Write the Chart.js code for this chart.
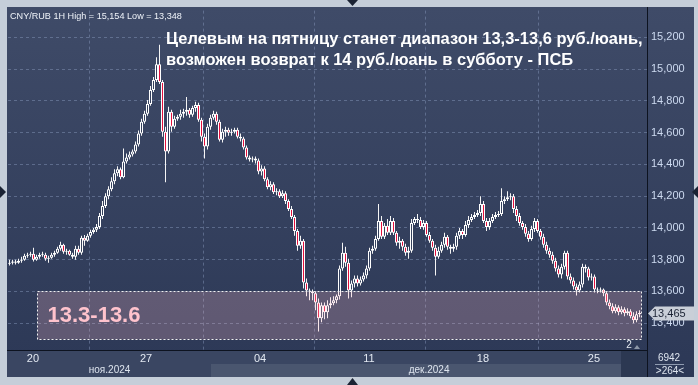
<!DOCTYPE html>
<html>
<head>
<meta charset="utf-8">
<script src="https://cdn.jsdelivr.net/npm/chart.js@4.4.1/dist/chart.umd.min.js"></script>
<style>
  html, body { margin: 0; padding: 0; background: #c5ced9; }
  canvas { display: block; }
</style>
</head>
<body>
<canvas id="cnyChart" width="698" height="385"></canvas>
<script>
// CNY/RUB 1H candles (19 Nov - 26 Dec 2024)
const opens = [
  13.775, 13.781, 13.788, 13.781, 13.794, 13.800, 13.825, 13.831, 13.838, 13.800,
  13.819, 13.831, 13.831, 13.806, 13.813, 13.831, 13.844, 13.869, 13.894, 13.850,
  13.856, 13.831, 13.819, 13.869, 13.844, 13.938, 13.919, 13.950, 13.975, 13.988,
  14.006, 14.075, 14.138, 14.200, 14.244, 14.294, 14.344, 14.369, 14.319, 14.419,
  14.444, 14.463, 14.481, 14.525, 14.594, 14.669, 14.719, 14.781, 14.869, 14.931,
  15.031, 14.919, 14.606, 14.481, 14.731, 14.638, 14.688, 14.700, 14.719, 14.731,
  14.744, 14.713, 14.756, 14.775, 14.681, 14.575, 14.513, 14.638, 14.694, 14.719,
  14.669, 14.556, 14.606, 14.619, 14.600, 14.606, 14.619, 14.575, 14.563, 14.506,
  14.444, 14.431, 14.438, 14.425, 14.356, 14.375, 14.306, 14.256, 14.275, 14.225,
  14.231, 14.200, 14.219, 14.169, 14.119, 14.069, 13.981, 13.888, 13.919, 13.656,
  13.606, 13.600, 13.588, 13.531, 13.431, 13.513, 13.469, 13.513, 13.525, 13.544,
  13.569, 13.744, 13.844, 13.781, 13.606, 13.650, 13.681, 13.650, 13.675, 13.700,
  13.744, 13.856, 13.869, 13.931, 14.044, 13.944, 14.013, 13.969, 14.044, 13.969,
  13.906, 13.919, 13.881, 13.844, 13.856, 14.031, 14.056, 14.050, 14.006, 14.031,
  13.956, 13.919, 13.875, 13.819, 13.856, 13.894, 13.944, 13.881, 13.869, 13.881,
  13.950, 13.981, 13.956, 14.019, 14.050, 14.069, 14.081, 14.094, 14.150, 14.044,
  14.006, 14.044, 14.069, 14.081, 14.088, 14.169, 14.181, 14.194, 14.200, 14.119,
  14.075, 14.031, 14.006, 13.963, 13.931, 13.994, 14.044, 13.981, 13.944, 13.894,
  13.856, 13.831, 13.794, 13.744, 13.706, 13.756, 13.844, 13.694, 13.669, 13.631,
  13.606, 13.644, 13.756, 13.744, 13.688, 13.694, 13.613, 13.606, 13.613, 13.588,
  13.531, 13.506, 13.475, 13.500, 13.469, 13.488, 13.463, 13.475, 13.444, 13.419, 13.456
];
const highs = [
  13.800, 13.800, 13.800, 13.806, 13.819, 13.838, 13.844, 13.850, 13.875, 13.831,
  13.844, 13.850, 13.844, 13.825, 13.844, 13.856, 13.881, 13.913, 13.900, 13.869,
  13.863, 13.844, 13.888, 13.888, 13.950, 13.956, 13.963, 13.988, 14.000, 14.025,
  14.094, 14.169, 14.219, 14.263, 14.319, 14.369, 14.388, 14.381, 14.500, 14.469,
  14.481, 14.494, 14.544, 14.613, 14.688, 14.738, 14.806, 14.894, 14.950, 15.075,
  15.154, 14.931, 14.638, 14.763, 14.744, 14.706, 14.713, 14.744, 14.750, 14.825,
  14.756, 14.769, 14.794, 14.788, 14.694, 14.594, 14.656, 14.713, 14.738, 14.731,
  14.681, 14.625, 14.638, 14.631, 14.625, 14.631, 14.631, 14.594, 14.575, 14.519,
  14.456, 14.450, 14.450, 14.438, 14.394, 14.388, 14.319, 14.294, 14.288, 14.250,
  14.244, 14.238, 14.231, 14.181, 14.138, 14.081, 13.994, 13.950, 13.931, 13.681,
  13.619, 13.613, 13.600, 13.556, 13.531, 13.531, 13.544, 13.563, 13.569, 13.581,
  13.763, 13.906, 13.881, 13.806, 13.669, 13.700, 13.700, 13.694, 13.719, 13.763,
  13.875, 13.888, 13.950, 14.150, 14.075, 14.031, 14.056, 14.075, 14.063, 13.981,
  13.944, 13.931, 13.900, 13.881, 14.056, 14.069, 14.088, 14.069, 14.050, 14.044,
  13.975, 13.931, 13.894, 13.881, 13.913, 13.969, 13.956, 13.894, 13.900, 13.969,
  14.000, 13.994, 14.044, 14.075, 14.088, 14.100, 14.113, 14.200, 14.169, 14.063,
  14.063, 14.088, 14.100, 14.106, 14.250, 14.200, 14.231, 14.219, 14.213, 14.138,
  14.094, 14.044, 14.025, 13.981, 14.013, 14.063, 14.056, 13.994, 13.963, 13.913,
  13.875, 13.850, 13.813, 13.763, 13.775, 13.856, 13.856, 13.713, 13.688, 13.650,
  13.663, 13.775, 13.769, 13.756, 13.713, 13.706, 13.625, 13.625, 13.619, 13.600,
  13.550, 13.525, 13.519, 13.513, 13.506, 13.500, 13.494, 13.488, 13.469, 13.475, 13.481
];
const lows = [
  13.763, 13.769, 13.769, 13.775, 13.781, 13.794, 13.813, 13.819, 13.788, 13.794,
  13.806, 13.819, 13.794, 13.781, 13.806, 13.819, 13.838, 13.856, 13.838, 13.831,
  13.825, 13.806, 13.800, 13.831, 13.831, 13.888, 13.913, 13.938, 13.963, 13.975,
  13.994, 14.056, 14.125, 14.181, 14.231, 14.275, 14.325, 14.306, 14.313, 14.406,
  14.431, 14.450, 14.469, 14.513, 14.581, 14.656, 14.706, 14.769, 14.856, 14.919,
  14.906, 14.575, 14.288, 14.469, 14.606, 14.625, 14.675, 14.681, 14.694, 14.706,
  14.694, 14.700, 14.731, 14.669, 14.544, 14.438, 14.494, 14.619, 14.681, 14.650,
  14.544, 14.538, 14.575, 14.581, 14.581, 14.594, 14.563, 14.544, 14.494, 14.431,
  14.419, 14.413, 14.406, 14.338, 14.331, 14.294, 14.244, 14.238, 14.213, 14.206,
  14.188, 14.188, 14.150, 14.106, 14.056, 13.950, 13.856, 13.869, 13.619, 13.569,
  13.544, 13.544, 13.481, 13.348, 13.406, 13.425, 13.431, 13.494, 13.513, 13.525,
  13.550, 13.731, 13.756, 13.556, 13.563, 13.625, 13.631, 13.638, 13.663, 13.681,
  13.731, 13.838, 13.856, 13.919, 13.931, 13.931, 13.956, 13.956, 13.956, 13.888,
  13.869, 13.856, 13.825, 13.806, 13.844, 14.019, 14.031, 13.994, 13.988, 13.944,
  13.906, 13.856, 13.700, 13.806, 13.844, 13.875, 13.863, 13.838, 13.850, 13.863,
  13.931, 13.931, 13.944, 14.000, 14.038, 14.056, 14.069, 14.075, 14.031, 13.981,
  13.988, 14.031, 14.056, 14.069, 14.075, 14.150, 14.169, 14.175, 14.094, 14.044,
  14.013, 13.988, 13.944, 13.913, 13.919, 13.975, 13.969, 13.925, 13.875, 13.838,
  13.813, 13.775, 13.725, 13.688, 13.681, 13.738, 13.675, 13.650, 13.613, 13.575,
  13.594, 13.625, 13.719, 13.669, 13.669, 13.594, 13.588, 13.594, 13.569, 13.513,
  13.488, 13.463, 13.463, 13.450, 13.456, 13.444, 13.450, 13.431, 13.400, 13.406, 13.438
];
const closes = [
  13.781, 13.788, 13.781, 13.794, 13.800, 13.825, 13.831, 13.838, 13.800, 13.819,
  13.831, 13.838, 13.806, 13.813, 13.831, 13.844, 13.869, 13.894, 13.850, 13.856,
  13.831, 13.819, 13.869, 13.844, 13.938, 13.919, 13.950, 13.975, 13.988, 14.006,
  14.075, 14.138, 14.200, 14.244, 14.294, 14.344, 14.369, 14.319, 14.419, 14.444,
  14.463, 14.481, 14.525, 14.594, 14.669, 14.719, 14.781, 14.869, 14.931, 15.031,
  14.919, 14.606, 14.481, 14.731, 14.638, 14.688, 14.700, 14.719, 14.731, 14.744,
  14.713, 14.756, 14.775, 14.681, 14.575, 14.513, 14.638, 14.694, 14.719, 14.669,
  14.556, 14.606, 14.619, 14.600, 14.606, 14.619, 14.575, 14.563, 14.506, 14.444,
  14.431, 14.438, 14.425, 14.356, 14.375, 14.306, 14.256, 14.275, 14.225, 14.231,
  14.200, 14.219, 14.169, 14.119, 14.069, 13.981, 13.888, 13.919, 13.656, 13.606,
  13.600, 13.588, 13.531, 13.431, 13.513, 13.469, 13.513, 13.525, 13.544, 13.569,
  13.744, 13.844, 13.781, 13.606, 13.650, 13.681, 13.650, 13.675, 13.700, 13.744,
  13.856, 13.869, 13.931, 14.044, 13.944, 14.013, 13.969, 14.044, 13.969, 13.906,
  13.919, 13.881, 13.844, 13.856, 14.031, 14.056, 14.050, 14.006, 14.031, 13.956,
  13.919, 13.875, 13.819, 13.856, 13.894, 13.944, 13.881, 13.869, 13.881, 13.950,
  13.981, 13.956, 14.019, 14.050, 14.069, 14.081, 14.094, 14.150, 14.044, 14.006,
  14.044, 14.069, 14.081, 14.088, 14.169, 14.181, 14.194, 14.200, 14.119, 14.075,
  14.031, 14.006, 13.963, 13.931, 13.994, 14.044, 13.981, 13.944, 13.894, 13.856,
  13.831, 13.794, 13.744, 13.706, 13.756, 13.844, 13.694, 13.669, 13.631, 13.606,
  13.644, 13.756, 13.744, 13.688, 13.694, 13.613, 13.606, 13.613, 13.588, 13.531,
  13.506, 13.475, 13.500, 13.469, 13.488, 13.463, 13.475, 13.444, 13.419, 13.456, 13.465
];

// x axis: candle index where each labelled day begins
const dayLabels = ['20', '27', '04', '11', '18', '25'];
const dayStarts = [7.8, 45.5, 83.5, 119.8, 157.8, 194.8];
const months = ['ноя.2024', 'дек.2024'];
const monthStarts = [-0.5, 67.2];
const priceTicks = [13.4, 13.6, 13.8, 14.0, 14.2, 14.4, 14.6, 14.8, 15.0, 15.2];

// target zone from the forecast
const zoneLow = 13.3, zoneHigh = 13.6;
const zoneFrom = 9.2, zoneTo = 210.5;
const lastPrice = 13.465;

const title = 'CNY/RUB 1H High = 15,154 Low = 13,348';
const headline = [
  'Целевым на пятницу станет диапазон 13,3-13,6 руб./юань,',
  'возможен возврат к 14 руб./юань в субботу - ПСБ'
];

const FONT = '"Liberation Sans", Arial, sans-serif';
const UP_FILL = '#35415d';
const DOWN_FILL = '#e3103d';
const gridColor = 'rgba(140, 158, 192, 0.45)';

const wickData = highs.map((h, i) => ({ x: i, y: [lows[i], h] }));
const bodyData = opens.map((o, i) => ({ x: i, y: [o, closes[i]] }));
const bodyColors = opens.map((o, i) => closes[i] < o ? DOWN_FILL : UP_FILL);

function fmt(v) {
  return v.toFixed(3).replace('.', ',');
}

const panelPlugin = {
  id: 'panel',
  beforeDraw(chart) {
    const { ctx, chartArea: a, scales: { x } } = chart;
    ctx.save();
    ctx.fillStyle = '#c5ced9';
    ctx.fillRect(0, 0, chart.width, chart.height);

    const g = ctx.createLinearGradient(0, 7, 0, 377);
    g.addColorStop(0, '#3f4b68');
    g.addColorStop(1, '#2c3856');
    ctx.fillStyle = g;
    ctx.fillRect(7, 7, 687, 370);

    // x axis strip + month band
    ctx.fillStyle = '#3a4662';
    ctx.fillRect(7, a.bottom, a.right - 7, 377 - a.bottom);
    const decX = Math.round(x.getPixelForValue(monthStarts[1]));
    ctx.fillStyle = '#4a566f';
    ctx.fillRect(decX, 364, a.right - decX, 13);
    const tailX = Math.round(x.getPixelForValue(203.8));
    ctx.fillStyle = '#2c3852';
    ctx.fillRect(tailX, a.bottom, a.right - tailX, 377 - a.bottom);

    // edge arrows
    ctx.fillStyle = '#1b2334';
    ctx.beginPath(); ctx.moveTo(347, 0); ctx.lineTo(358, 0); ctx.lineTo(352.5, 6); ctx.fill();
    ctx.beginPath(); ctx.moveTo(347, 385); ctx.lineTo(358, 385); ctx.lineTo(352.5, 378); ctx.fill();
    ctx.beginPath(); ctx.moveTo(0, 186); ctx.lineTo(0, 198); ctx.lineTo(6, 192); ctx.fill();
    ctx.beginPath(); ctx.moveTo(698, 186); ctx.lineTo(698, 198); ctx.lineTo(692, 192); ctx.fill();
    ctx.restore();
  },
  afterDatasetsDraw(chart) {
    const { ctx, chartArea: a, scales: { x, y } } = chart;
    const x0 = Math.round(x.getPixelForValue(zoneFrom)) + 0.5;
    const x1 = Math.round(x.getPixelForValue(zoneTo)) + 0.5;
    const y0 = Math.round(y.getPixelForValue(zoneHigh)) + 0.5;
    const y1 = Math.round(y.getPixelForValue(zoneLow)) + 0.5;
    ctx.save();
    ctx.fillStyle = 'rgba(255, 190, 202, 0.24)';
    ctx.fillRect(x0, y0, x1 - x0, y1 - y0);
    ctx.strokeStyle = '#f2f2f2';
    ctx.lineWidth = 1;
    ctx.setLineDash([2, 2]);
    ctx.strokeRect(x0, y0, x1 - x0, y1 - y0);
    ctx.setLineDash([]);
    ctx.fillStyle = '#ffc3cd';
    ctx.font = 'bold 22px ' + FONT;
    ctx.textBaseline = 'alphabetic';
    ctx.fillText(zoneLow.toFixed(1) + '-' + zoneHigh.toFixed(1), x0 + 10, 322);
    ctx.restore();
  },
  afterDraw(chart) {
    const { ctx, chartArea: a, scales: { x, y } } = chart;
    ctx.save();
    // separators
    ctx.strokeStyle = '#0d1320';
    ctx.lineWidth = 1;
    ctx.beginPath();
    ctx.moveTo(a.right + 0.5, 7); ctx.lineTo(a.right + 0.5, 377);
    ctx.moveTo(7, a.bottom + 0.5); ctx.lineTo(a.right, a.bottom + 0.5);
    ctx.stroke();

    // month labels
    ctx.fillStyle = '#dde4ee';
    ctx.font = '10px ' + FONT;
    ctx.textAlign = 'center';
    ctx.textBaseline = 'middle';
    months.forEach((m, i) => {
      const l = Math.max(a.left, x.getPixelForValue(monthStarts[i]));
      const r = i + 1 < months.length ? x.getPixelForValue(monthStarts[i + 1]) : a.right;
      ctx.fillText(m, (l + r) / 2, 370.5);
    });

    // bar count / shift box
    ctx.fillText('6942', 669, 358);
    ctx.fillText('>264<', 670, 371);
    ctx.strokeStyle = '#8f9bb0';
    ctx.beginPath(); ctx.moveTo(655, 364.5); ctx.lineTo(684, 364.5); ctx.stroke();

    // "2" marker
    ctx.font = '10px ' + FONT;
    ctx.fillStyle = '#e6ebf2';
    ctx.fillText('2', 629, 345);
    ctx.fillStyle = '#8d97a8';
    ctx.beginPath(); ctx.moveTo(634, 349); ctx.lineTo(640, 349); ctx.lineTo(637, 345); ctx.fill();

    // last price marker
    const py = Math.round(y.getPixelForValue(lastPrice)) + 0.5;
    ctx.fillStyle = '#c9cfd8';
    ctx.beginPath();
    ctx.moveTo(a.right + 1, py);
    ctx.lineTo(a.right + 8, py - 7);
    ctx.lineTo(694, py - 7);
    ctx.lineTo(694, py + 7);
    ctx.lineTo(a.right + 8, py + 7);
    ctx.closePath();
    ctx.fill();
    ctx.fillStyle = '#1a2233';
    ctx.font = '11px ' + FONT;
    ctx.textAlign = 'left';
    ctx.fillText(fmt(lastPrice), a.right + 5, py + 0.5);

    // title
    ctx.fillStyle = '#eef2f8';
    ctx.font = '11px ' + FONT;
    ctx.textBaseline = 'alphabetic';
    const tw = ctx.measureText(title).width;
    ctx.font = (11 * 172 / tw).toFixed(2) + 'px ' + FONT;
    ctx.fillText(title, 10, 19);

    // headline
    ctx.fillStyle = '#ffffff';
    ctx.font = 'bold 16px ' + FONT;
    const hw = ctx.measureText(headline[0]).width;
    ctx.font = 'bold ' + (16 * 477 / hw).toFixed(2) + 'px ' + FONT;
    ctx.fillText(headline[0], 166, 44);
    ctx.fillText(headline[1], 166, 65);
    ctx.restore();
  }
};

const ctx = document.getElementById('cnyChart').getContext('2d');
const cnyChart = new Chart(ctx, {
  type: 'bar',
  data: {
    datasets: [
      {
        label: 'Wick',
        data: wickData,
        backgroundColor: '#f5f5f5',
        borderWidth: 0,
        barThickness: 1,
        inflateAmount: 0,
        order: 1
      },
      {
        label: 'Body',
        data: bodyData,
        backgroundColor: bodyColors,
        borderColor: '#ffffff',
        borderWidth: 1,
        borderSkipped: false,
        barThickness: 3,
        inflateAmount: 0,
        order: 0
      }
    ]
  },
  options: {
    responsive: false,
    animation: false,
    devicePixelRatio: 1,
    grouped: false,
    layout: { padding: { left: 8, top: 8, right: 5, bottom: 8 } },
    plugins: {
      legend: { display: false },
      tooltip: { enabled: false }
    },
    scales: {
      x: {
        type: 'linear',
        min: -0.5,
        max: 212.5,
        offset: false,
        afterFit: (s) => { s.height = 27; },
        afterBuildTicks: (s) => { s.ticks = dayStarts.map(v => ({ value: v })); },
        grid: { color: gridColor, drawTicks: false, tickLength: 0 },
        border: { display: false, dash: [3, 3] },
        ticks: {
          callback: (v, i) => dayLabels[i],
          color: '#e3e9f2',
          font: { size: 11, family: FONT },
          padding: 2,
          maxRotation: 0,
          autoSkip: false
        }
      },
      y: {
        position: 'right',
        min: 13.23125,
        max: 15.36875,
        afterFit: (s) => { s.width = 46; },
        afterBuildTicks: (s) => { s.ticks = priceTicks.map(v => ({ value: v })); },
        grid: { color: gridColor, drawTicks: false, tickLength: 0 },
        border: { display: false, dash: [3, 3] },
        ticks: {
          callback: (v) => fmt(v),
          color: '#cddaf0',
          font: { size: 11, family: FONT },
          padding: 4
        }
      }
    }
  },
  plugins: [panelPlugin]
});
</script>
</body>
</html>
